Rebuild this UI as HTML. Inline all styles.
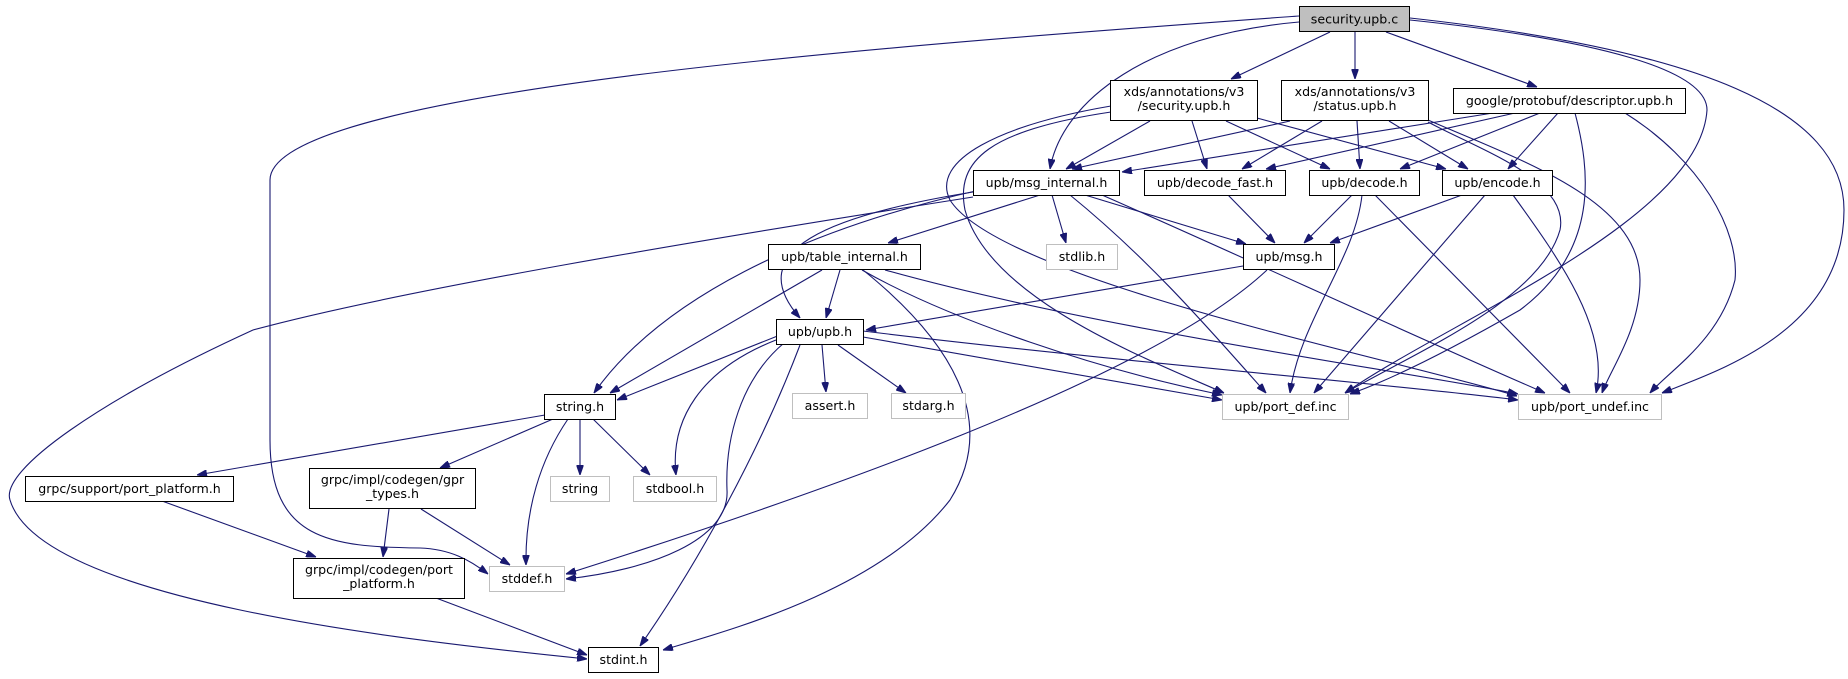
<!DOCTYPE html>
<html><head><meta charset="utf-8"><style>
html,body{margin:0;padding:0;background:#fff;}
svg{display:block;}
text{font-family:"DejaVu Sans","Liberation Sans",sans-serif;font-size:12.6px;fill:#000;}
.e{fill:none;stroke:#191970;stroke-width:1.1;marker-end:url(#ah);}
.n{fill:#fff;stroke:#000;stroke-width:1;}
.g{fill:#fff;stroke:#bfbfbf;stroke-width:1;}
</style></head><body>
<svg width="1848" height="679" viewBox="0 0 1848 679" xmlns="http://www.w3.org/2000/svg">
<defs><marker id="ah" viewBox="0 0 10 7" refX="10" refY="3.5" markerWidth="10" markerHeight="7" markerUnits="userSpaceOnUse" orient="auto"><path d="M0,0 L10,3.5 L0,7 z" fill="#191970" stroke="#191970"/></marker></defs>
<g>
<!-- A -->
<path class="e" d="M1330,32 L1231,79"/>
<path class="e" d="M1355,32 L1355,79"/>
<path class="e" d="M1386,32 L1537,87"/>
<path class="e" d="M1299,22 C1150,35 1062,100 1050,169"/>
<path class="e" d="M1299,16 C900,45 270,90 270,180 L270,440 C270,540 330,547 420,548 C450,549 470,560 488,574"/>
<path class="e" d="M1410,20 C1600,40 1707,70 1707,110 C1700,220 1450,320 1345,393"/>
<path class="e" d="M1410,18 C1700,50 1844,110 1844,210 C1844,330 1720,370 1662,393"/>
<!-- B -->
<path class="e" d="M1150,121 L1066,169"/>
<path class="e" d="M1192,121 L1207,169"/>
<path class="e" d="M1226,121 L1330,169"/>
<path class="e" d="M1257,118 L1446,169"/>
<path class="e" d="M1111,112 C990,130 955,160 965,210 C990,300 1150,360 1224,393"/>
<path class="e" d="M1111,106 C1000,125 930,160 950,200 C1000,280 1400,360 1517,396"/>
<!-- C -->
<path class="e" d="M1290,121 L1072,169"/>
<path class="e" d="M1322,121 L1242,169"/>
<path class="e" d="M1357,121 L1360,169"/>
<path class="e" d="M1389,121 L1468,169"/>
<path class="e" d="M1428,122 C1480,150 1570,180 1560,230 C1540,300 1420,350 1345,393"/>
<path class="e" d="M1428,120 C1520,160 1640,200 1640,280 C1640,330 1610,370 1602,393"/>
<!-- D -->
<path class="e" d="M1493,113 L1122,172"/>
<path class="e" d="M1515,113 L1266,169"/>
<path class="e" d="M1540,113 L1400,169"/>
<path class="e" d="M1558,113 L1508,169"/>
<path class="e" d="M1575,113 C1590,170 1600,250 1520,310 C1450,350 1390,380 1350,394"/>
<path class="e" d="M1625,113 C1700,160 1740,230 1735,280 C1720,340 1670,370 1650,393"/>
<!-- E -->
<path class="e" d="M1040,195 L888,243"/>
<path class="e" d="M973,192 C830,215 740,250 800,318"/>
<path class="e" d="M980,190 C800,230 660,300 594,393"/>
<path class="e" d="M1052,195 L1066,243"/>
<path class="e" d="M1085,195 L1246,244"/>
<path class="e" d="M1070,195 C1150,260 1210,330 1266,393"/>
<path class="e" d="M1102,195 C1250,260 1400,330 1545,393"/>
<path class="e" d="M973,197 C700,240 400,290 253,330 C100,400 0,470 10,500 C40,600 400,640 587,659"/>
<!-- F,G,H -->
<path class="e" d="M1228,195 L1275,243"/>
<path class="e" d="M1352,195 L1304,243"/>
<path class="e" d="M1362,195 C1355,260 1300,320 1290,393"/>
<path class="e" d="M1375,195 L1570,393"/>
<path class="e" d="M1462,195 L1330,243"/>
<path class="e" d="M1485,195 L1314,393"/>
<path class="e" d="M1513,195 C1560,260 1610,330 1596,393"/>
<!-- J -->
<path class="e" d="M1243,266 L866,330"/>
<path class="e" d="M1267,270 C1150,380 800,500 566,574"/>
<!-- K -->
<path class="e" d="M840,270 L826,318"/>
<path class="e" d="M822,270 L610,393"/>
<path class="e" d="M862,270 C950,320 1100,370 1222,395"/>
<path class="e" d="M885,270 C1100,330 1400,370 1518,394"/>
<path class="e" d="M863,270 C950,340 1000,420 950,500 C880,590 730,630 663,650"/>
<!-- L -->
<path class="e" d="M780,335 L617,400"/>
<path class="e" d="M822,345 L826,392"/>
<path class="e" d="M838,345 L906,393"/>
<path class="e" d="M776,340 C700,370 670,420 676,475"/>
<path class="e" d="M784,343 C740,380 725,440 727,490 C730,540 650,570 566,579"/>
<path class="e" d="M800,345 C760,450 700,560 640,646"/>
<path class="e" d="M863,337 L1222,400"/>
<path class="e" d="M863,331 C1100,360 1400,385 1518,400"/>
<!-- M -->
<path class="e" d="M545,415 L197,475"/>
<path class="e" d="M553,419 L440,468"/>
<path class="e" d="M580,419 L580,475"/>
<path class="e" d="M593,419 L650,475"/>
<path class="e" d="M568,419 C540,460 525,510 526,565"/>
<!-- R,S,V -->
<path class="e" d="M162,501 L316,557"/>
<path class="e" d="M389,509 L383,557"/>
<path class="e" d="M421,509 L510,565"/>
<path class="e" d="M436,598 L587,655"/>
</g>
<g>
<rect x="1299.5" y="6.5" width="110" height="25" fill="#bfbfbf" stroke="#000"/>
<text x="1354.5" y="23.5" text-anchor="middle">security.upb.c</text>

<rect class="n" x="1110.5" y="80.5" width="147" height="40"/>
<text x="1184" y="96" text-anchor="middle">xds/annotations/v3</text>
<text x="1184" y="110" text-anchor="middle">/security.upb.h</text>

<rect class="n" x="1281.5" y="80.5" width="147" height="40"/>
<text x="1355" y="96" text-anchor="middle">xds/annotations/v3</text>
<text x="1355" y="110" text-anchor="middle">/status.upb.h</text>

<rect class="n" x="1453.5" y="88.5" width="232" height="25"/>
<text x="1569.5" y="105" text-anchor="middle">google/protobuf/descriptor.upb.h</text>

<rect class="n" x="973.5" y="170.5" width="146" height="25"/>
<text x="1046.5" y="187" text-anchor="middle">upb/msg_internal.h</text>
<rect class="n" x="1144.5" y="170.5" width="141" height="25"/>
<text x="1215" y="187" text-anchor="middle">upb/decode_fast.h</text>
<rect class="n" x="1309.5" y="170.5" width="110" height="25"/>
<text x="1364.5" y="187" text-anchor="middle">upb/decode.h</text>
<rect class="n" x="1442.5" y="170.5" width="110" height="25"/>
<text x="1497.5" y="187" text-anchor="middle">upb/encode.h</text>

<rect class="g" x="1046.5" y="244.5" width="71" height="25"/>
<text x="1082" y="261" text-anchor="middle">stdlib.h</text>
<rect class="n" x="1243.5" y="244.5" width="91" height="25"/>
<text x="1289" y="261" text-anchor="middle">upb/msg.h</text>
<rect class="n" x="768.5" y="244.5" width="152" height="25"/>
<text x="844.5" y="261" text-anchor="middle">upb/table_internal.h</text>
<rect class="n" x="776.5" y="319.5" width="87" height="25"/>
<text x="820" y="336" text-anchor="middle">upb/upb.h</text>

<rect class="n" x="544.5" y="394.5" width="71" height="25"/>
<text x="580" y="411" text-anchor="middle">string.h</text>
<rect class="g" x="792.5" y="393.5" width="75" height="25"/>
<text x="830" y="410" text-anchor="middle">assert.h</text>
<rect class="g" x="891.5" y="393.5" width="74" height="25"/>
<text x="928.5" y="410" text-anchor="middle">stdarg.h</text>
<rect class="g" x="1222.5" y="394.5" width="126" height="25"/>
<text x="1285.5" y="411" text-anchor="middle">upb/port_def.inc</text>
<rect class="g" x="1518.5" y="394.5" width="143" height="25"/>
<text x="1590" y="411" text-anchor="middle">upb/port_undef.inc</text>

<rect class="n" x="25.5" y="476.5" width="208" height="25"/>
<text x="129.5" y="493" text-anchor="middle">grpc/support/port_platform.h</text>
<rect class="n" x="309.5" y="468.5" width="166" height="40"/>
<text x="392.5" y="484" text-anchor="middle">grpc/impl/codegen/gpr</text>
<text x="392.5" y="498" text-anchor="middle">_types.h</text>
<rect class="g" x="550.5" y="476.5" width="59" height="25"/>
<text x="580" y="493" text-anchor="middle">string</text>
<rect class="g" x="633.5" y="476.5" width="83" height="25"/>
<text x="675" y="493" text-anchor="middle">stdbool.h</text>

<rect class="n" x="293.5" y="558.5" width="171" height="40"/>
<text x="379" y="574" text-anchor="middle">grpc/impl/codegen/port</text>
<text x="379" y="588" text-anchor="middle">_platform.h</text>
<rect class="g" x="489.5" y="566.5" width="75" height="25"/>
<text x="527" y="583" text-anchor="middle">stddef.h</text>
<rect class="n" x="588.5" y="647.5" width="70" height="25"/>
<text x="623.5" y="664" text-anchor="middle">stdint.h</text>
</g>
</svg>
</body></html>
